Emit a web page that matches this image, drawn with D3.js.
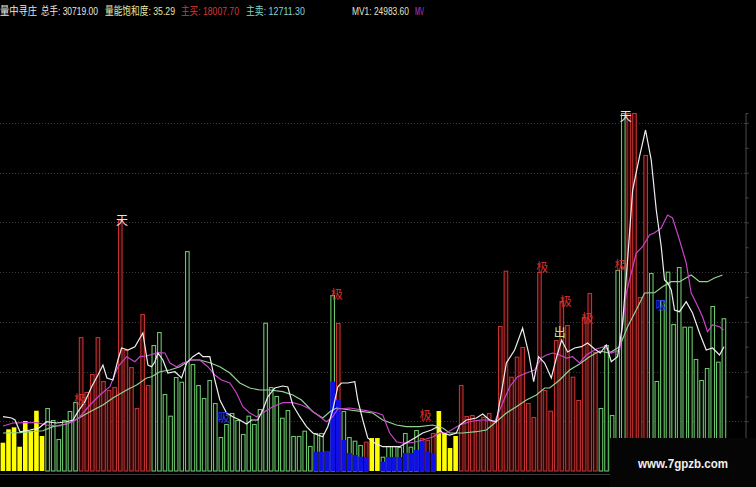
<!DOCTYPE html>
<html><head><meta charset="utf-8">
<script src="https://cdn.jsdelivr.net/npm/d3@7"></script>
<style>html,body{margin:0;padding:0;background:#000;overflow:hidden}</style>
</head><body><svg id="c" width="756" height="487"></svg>
<script>
// ---- data ----
const barValues = [5690,8380,8780,4880,10050,8100,12120,7040,12660,10250,6430,10250,12060,13870,
26930,15880,19500,26930,18090,16280,16880,50450,24320,20900,12660,31560,17290,
25330,27940,15480,11120,18890,17950,44220,21510,17290,14670,18290,13670,6830,9450,11660,10250,7440,11120,9450,12460,29810,16880,15080,10710,12260,7040,7040,8100,5030,7640,7640,4020,35380,
29750,12060,6830,6090,5230,5890,6630,6630,2870,5030,5030,4820,7640,4880,8240,6630,6230,7640,12060,7640,4620,7040,
17290,11060,11260,10250,10920,11660,9910,29150,40280,18960,22990,24930,13670,10860,40020,16280,12130,26340,34190,29360,18960,14280,30970,35800,23930,
12670,25340,11260,40420,72000,72000,72000,34990,63550,
39820,18100,34390,40080,29560,41020,29020,29020,22520,18300,20710,33180,21980,30719];
const barKinds = "yyyyyyyy"+"gggggg"+"rrrrrrrrrrrrr"+"ggggggggggggggggggggggggggggggggg"+"r"+"gggg"+"r"+"yy"+"ggggggg"+"rrr"+"yyyy"+"rrrrrrrrrrrrrrrrrrrrrrrrr"+"ggggg"+"rrrr"+"gggggggggggggg";
const bluePairs = [[56,3880],[57,3880],[58,4020],[59,17960],[60,14280],[61,6230],[62,3620],[63,3220],[64,2880],[65,2820],
[68,1870],[69,2820],[70,2820],[71,2820],[72,3620],[73,3620],[74,4220],[75,5890],[76,3880],[77,3620]];
const mv1 = [[0,10920],[1.56,10660],[2.15,10260],[3.04,7900],[4.83,8250],[6.44,8650],[7.81,9910],[9.6,9650],[11.39,9910],[12.52,10260],[13.41,11930],[14.66,13940],[15.86,16950],[16.99,19310],[17.88,21320],[18.6,18700],[19.67,18300],[20.56,22320],[21.22,24740],[22.35,24330],[23.6,25000],[24.5,26750],[25.03,27750],[25.93,21320],[26.59,20970],[27.18,21980],[27.71,23730],[28.61,22320],[29.5,19710],[30.75,19970],[31.95,18700],[32.85,21720],[33.97,22990],[35.04,23790],[35.76,22990],[37.01,22990],[37.9,18300],[38.8,14280],[40,11660],[41.12,10920],[42.37,10260],[43.57,9450],[44.47,10260],[45.59,10260],[46.49,12270],[47.38,14940],[48.63,16690],[50.06,17090],[50.96,16890],[51.85,13270],[53.1,10920],[54.3,8910],[55.43,7640],[57.21,6900],[58.11,8910],[59,12270],[59.9,16950],[60.56,17700],[61.68,17700],[62.94,17960],[63.47,14280],[64.37,10260],[65.26,6640],[66.51,5630],[67.94,4890],[69.73,4890],[70.98,4890],[72.18,5690],[73.66,6640],[75.09,7640],[76.65,8250],[77.78,8910],[78.67,7640],[79.92,7240],[81.12,7640],[81.71,9250],[82.91,10260],[84.7,10660],[85.82,11460],[87.07,10260],[88.27,9910],[89.16,15690],[90.06,21720],[91.54,24330],[92.97,28760],[94.05,23730],[94.94,17960],[95.83,22990],[96.91,21720],[98.1,18700],[99,22720],[99.95,26340],[101.02,23930],[102.27,24740],[103.47,25000],[104.6,25740],[105.85,24530],[106.87,23730],[107.94,25340],[108.83,21980],[109.96,22990],[110.8,29020],[111.75,42430],[112.65,56510],[113.88,63210],[114.96,68580],[115.98,62540],[116.88,52490],[117.77,45110],[118.36,38410],[118.9,37870],[119.56,36400],[120.15,32380],[121.04,32040],[122.24,34050],[123.37,31770],[124.62,27750],[125.82,24330],[126.94,24740],[128.2,23330],[129,24984]];
const mv2 = [[0,9050],[1.79,9650],[4.24,9710],[6.03,9710],[7.81,9250],[10.19,9050],[12.52,9910],[13.77,10920],[15.56,13270],[17.34,15280],[19.13,16950],[20.56,20970],[22.12,22990],[23.6,21980],[24.5,22990],[25.69,23130],[27.71,23790],[28.97,23730],[29.86,21720],[31.06,20970],[32.18,21720],[33.74,22320],[35.22,22320],[36.65,20970],[37.9,19310],[39.1,18300],[40.59,17700],[41.78,15690],[42.91,12930],[44.16,11660],[45.36,10920],[46.49,11720],[48.27,12930],[50.06,13740],[51.85,13740],[53.41,13270],[54.89,12470],[56.68,10920],[57.88,9910],[59,10920],[59.9,12470],[62.04,12670],[65.03,12130],[66.82,11720],[67.94,11260],[69.19,7640],[70.39,5890],[71.52,5630],[73.31,5690],[75.09,6230],[76.88,6840],[78.13,7700],[79.33,7640],[81.71,9250],[83.5,9910],[85.29,10260],[86.48,10260],[87.97,9910],[89.4,13670],[90.65,16950],[92.08,18960],[93.64,19710],[95.12,20310],[96.32,22720],[97.21,23330],[98.34,23730],[99.59,23330],[100.79,22720],[101.91,22990],[103.16,21720],[104.36,23330],[106.15,24530],[107.63,25000],[108.83,23730],[110.32,24330],[111.52,35800],[113.3,43840],[114.43,45110],[115.68,47460],[116.58,47920],[117.77,48870],[118.9,51480],[119.79,50880],[121.04,46450],[122.24,41830],[123.13,35800],[124.03,33780],[125.16,31030],[126.05,28010],[126.94,29360],[128.2,29020],[128.91,28360]];
const mv3 = [[0,7640],[3.04,7700],[7.15,8100],[8.94,8910],[11.39,9450],[13.18,10400],[15.56,11930],[17.88,13270],[19.67,14680],[22.12,16290],[23.9,17290],[25.69,18700],[26.59,18960],[28.07,19970],[29.86,20310],[31.65,20970],[33.43,22320],[35.22,22320],[37.01,21780],[38.8,20970],[40.59,19710],[42.37,17700],[44.16,16690],[45.95,16290],[47.74,16290],[50.06,15950],[51.85,15280],[53.41,14280],[55.43,11930],[57.21,10660],[58.47,11930],[59.66,12670],[62.04,12270],[64.37,11930],[66.15,11660],[67.94,10260],[70.39,9250],[72.18,8910],[74.56,8910],[76.88,9250],[78.67,8650],[79.92,7640],[82.25,7640],[84.7,7900],[86.48,8250],[88.27,9910],[90.06,11660],[91.85,12930],[93.64,14280],[95.42,15280],[96.91,16690],[97.8,16690],[99.59,18300],[101.38,20310],[103.16,21520],[104.95,22990],[106.74,24130],[108.53,23730],[110.32,25000],[111.75,29020],[113.3,32380],[114.79,35800],[116.58,35860],[118,37060],[119.56,38070],[121.04,38070],[123.13,39420],[124.62,38070],[126.05,38070],[127.3,38810],[128.73,39420]];
const signals = [
 {i:21.3,v:50280,t:"天",c:"#f2dede"},{i:111.4,v:71390,t:"天",c:"#f2dede"},
 {i:13.8,v:14280,t:"极",c:"#d83030"},{i:59.7,v:35590,t:"极",c:"#d83030"},{i:75.6,v:11260,t:"极",c:"#d83030"},
 {i:96.5,v:41020,t:"极",c:"#d83030"},{i:100.7,v:33990,t:"极",c:"#d83030"},{i:104.6,v:30770,t:"极",c:"#d83030"},
 {i:110.5,v:41430,t:"极",c:"#d83030"},{i:99.6,v:27950,t:"出",c:"#c8e08a"},
 {i:39.5,v:10860,t:"吸",c:"#2a3cff"},{i:117.8,v:33380,t:"吸",c:"#2a3cff"}];
const headerItems = [
 {t:"量中寻庄",x:0,len:37,c:"#e8e8e8"},
 {t:"总手: 30719.00",x:41,len:57,c:"#e8e8e8"},
 {t:"量能饱和度: 35.29",x:105,len:70,c:"#e6e6a8"},
 {t:"主买: 18007.70",x:181,len:58,c:"#d43a3a"},
 {t:"主卖: 12711.30",x:246,len:59,c:"#86d4d4"},
 {t:"MV1: 24983.60",x:352,len:57,c:"#e4e4c4"},
 {t:"MV",x:415,len:9,c:"#c040c8"}];
const watermark = "www.7gpzb.com";

// ---- drawing ----
const svg = d3.select("#c");
svg.append("rect").attr("width",756).attr("height",487).attr("fill","#000");
const n = barValues.length;
const x = d3.scaleBand().domain(d3.range(n)).range([0.2, 726.8]).padding(0);
const bw = x.bandwidth();
const y = d3.scaleLinear().domain([0, 72000]).range([471, 113]).clamp(true);
const xl = d3.scaleLinear().domain([0, n-1]).range([x(0)+bw/2, x(n-1)+bw/2]);

// grid
svg.append("g").selectAll("line").data(y.ticks(7).filter(t=>t>0)).join("line")
  .attr("x1",0).attr("x2",745).attr("y1",d=>Math.round(y(d))+0.5).attr("y2",d=>Math.round(y(d))+0.5)
  .attr("stroke","#3a3a3a").attr("stroke-dasharray","1,2");

// bars
const bars = svg.append("g");
barValues.forEach((v,i)=>{
  const k = barKinds[i];
  const top = y(v);
  if(k==="y"){
    bars.append("rect").attr("x",x(i)+0.4).attr("width",bw-1).attr("y",top).attr("height",471-top).attr("fill","#ffff00");
  } else {
    bars.append("rect").attr("x",x(i)+0.9).attr("width",bw-2).attr("y",top+0.5).attr("height",471-top-0.5)
      .attr("fill",k==="g"?"#020602":"#2e0606").attr("stroke",k==="g"?"#6cc46c":"#c23232").attr("stroke-width",1.1);
  }
});
svg.append("g").selectAll("rect").data(bluePairs).join("rect")
  .attr("x",d=>x(d[0])+0.3).attr("width",bw-0.8).attr("y",d=>y(d[1])).attr("height",d=>471-y(d[1]))
  .attr("fill","#1010e6");

// lines
const line = d3.line().x(d=>xl(d[0])).y(d=>y(d[1]));
[[mv3,"#92d492"],[mv2,"#c844c8"],[mv1,"#eeeeee"]].forEach(([d,c])=>{
  svg.append("path").datum(d).attr("d",line).attr("fill","none").attr("stroke",c).attr("stroke-width",1.2);
});

// signal labels
svg.append("g").selectAll("text").data(signals).join("text")
  .attr("x",d=>xl(d.i)).attr("y",d=>y(d.v)+4.5).attr("text-anchor","middle")
  .attr("font-family","Noto Sans CJK SC").attr("font-size",12).attr("fill",d=>d.c).text(d=>d.t);

// right axis
const ax = svg.append("g").attr("transform","translate(745.5,0)")
  .call(d3.axisRight(y).tickValues(d3.range(5000,72000,5000)).tickSize(3).tickFormat(""));
ax.selectAll("path,line").attr("stroke","#4a4a4a");

// bottom axis line
svg.append("line").attr("x1",0).attr("x2",610).attr("y1",474.5).attr("y2",474.5).attr("stroke","#3c3c3c");

// watermark box
svg.append("rect").attr("x",610).attr("y",438).attr("width",146).attr("height",49).attr("fill","#050505");
svg.append("text").attr("x",638).attr("y",468).attr("font-family","Liberation Sans").attr("font-weight","bold")
  .attr("font-size",13).attr("fill","#f0f0f0").attr("textLength",90).attr("lengthAdjust","spacingAndGlyphs").text(watermark);

// header (condensed by horizontal scaling to the widths seen in the picture)
const hg = svg.append("g");
headerItems.forEach(d=>{
  const g = hg.append("g");
  const t = g.append("text").attr("x",0).attr("y",0).attr("font-family","Liberation Sans, Noto Sans CJK SC")
    .attr("font-size",11.5).attr("fill",d.c).text(d.t);
  const w = t.node().getComputedTextLength();
  g.attr("transform",`translate(${d.x},15) scale(${d.len/w},1)`);
});
</script></body></html>
